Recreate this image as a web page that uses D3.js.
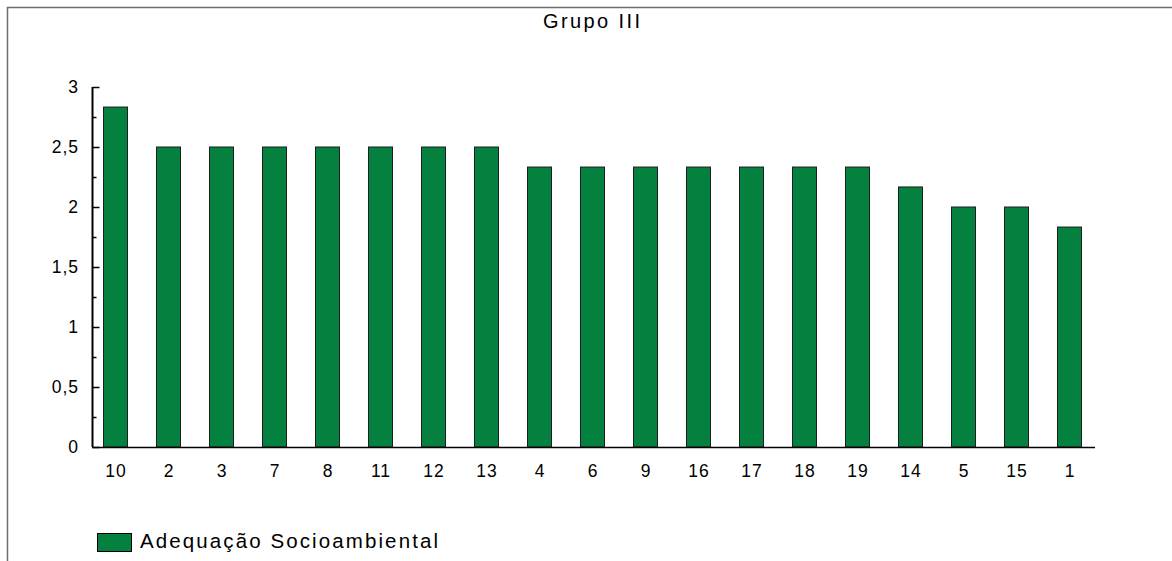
<!DOCTYPE html>
<html>
<head>
<meta charset="utf-8">
<script src="https://cdn.jsdelivr.net/npm/d3@7"></script>
<style>
  html, body { margin: 0; padding: 0; background: #fff; }
  svg { display: block; font-family: "Liberation Sans", Arial, sans-serif; }
</style>
</head>
<body>
<svg id="chart" width="1172" height="561"></svg>
<script>
// Group III scores, sorted from highest to lowest
const categories = ["10", "2", "3", "7", "8", "11", "12", "13", "4", "6", "9", "16", "17", "18", "19", "14", "5", "15", "1"];
const values = [2.833, 2.5, 2.5, 2.5, 2.5, 2.5, 2.5, 2.5, 2.333, 2.333, 2.333, 2.333, 2.333, 2.333, 2.333, 2.167, 2.0, 2.0, 1.833];
const majorTicks = [0, 0.5, 1, 1.5, 2, 2.5, 3];
const minorTicks = [0.25, 0.75, 1.25, 1.75, 2.25, 2.75];
const titleText = "Grupo III";
const seriesName = "Adequação Socioambiental";

const svg = d3.select("#chart");
const barFill = "#04803f";

// outer frame
svg.append("rect")
  .attr("x", 7.5).attr("y", 7.5)
  .attr("width", 1300).attr("height", 700)
  .attr("fill", "none").attr("stroke", "#6e6e6e").attr("stroke-width", 1.5);

const x = d3.scaleBand()
  .domain(categories)
  .range([88.5, 1095.5])
  .paddingInner(0.547)
  .paddingOuter(0.2735);

const y = d3.scaleLinear().domain([0, 3]).range([447, 87]);

// bars
svg.append("g").selectAll("rect")
  .data(categories.map((c, i) => ({ c, v: values[i] })))
  .join("rect")
  .attr("x", d => x(d.c) + 0.5)
  .attr("y", d => y(d.v))
  .attr("width", x.bandwidth())
  .attr("height", d => y(0) - y(d.v))
  .attr("fill", barFill)
  .attr("stroke", "#1e1e1e")
  .attr("stroke-width", 1);

// y axis: major ticks pointing inward, labels on the left
const yAxis = svg.append("g").attr("transform", "translate(92.5,0)");
yAxis.call(d3.axisRight(y).tickValues(majorTicks).tickSize(7).tickFormat(() => ""))
  .call(g => g.select(".domain").remove());
yAxis.append("g")
  .call(d3.axisRight(y).tickValues(minorTicks).tickSize(4).tickFormat(() => ""))
  .call(g => g.select(".domain").remove());
yAxis.selectAll(".tick line").attr("stroke", "#000").attr("stroke-width", 1.5);
yAxis.append("line")
  .attr("x1", 0).attr("x2", 0)
  .attr("y1", y(3)).attr("y2", y(0))
  .attr("stroke", "#000").attr("stroke-width", 2);

const fmt = v => String(v).replace(".", ",");
svg.append("g").selectAll("text")
  .data(majorTicks)
  .join("text")
  .attr("x", 79)
  .attr("y", d => y(d))
  .attr("dy", "0.36em")
  .attr("text-anchor", "end")
  .attr("font-size", 17.5)
  .attr("letter-spacing", 1)
  .attr("fill", "#000")
  .text(fmt);

// x axis line and category labels
svg.append("line")
  .attr("x1", 92).attr("x2", 1095)
  .attr("y1", y(0) + 0.5).attr("y2", y(0) + 0.5)
  .attr("stroke", "#000").attr("stroke-width", 1.5);

svg.append("g").selectAll("text")
  .data(categories)
  .join("text")
  .attr("x", d => x(d) + x.bandwidth() / 2 + 1)
  .attr("y", 477)
  .attr("text-anchor", "middle")
  .attr("font-size", 17.5)
  .attr("letter-spacing", 1)
  .attr("fill", "#000")
  .text(d => d);

// title
svg.append("text")
  .attr("x", 543)
  .attr("y", 28)
  .attr("font-size", 20)
  .attr("textLength", 97)
  .attr("lengthAdjust", "spacing")
  .attr("fill", "#000")
  .text(titleText);

// legend
svg.append("rect")
  .attr("x", 97.5).attr("y", 533.5)
  .attr("width", 34).attr("height", 18)
  .attr("fill", barFill)
  .attr("stroke", "#000").attr("stroke-width", 1);
svg.append("text")
  .attr("x", 140)
  .attr("y", 548)
  .attr("font-size", 20.5)
  .attr("textLength", 298)
  .attr("lengthAdjust", "spacing")
  .attr("fill", "#000")
  .text(seriesName);
</script>
</body>
</html>
